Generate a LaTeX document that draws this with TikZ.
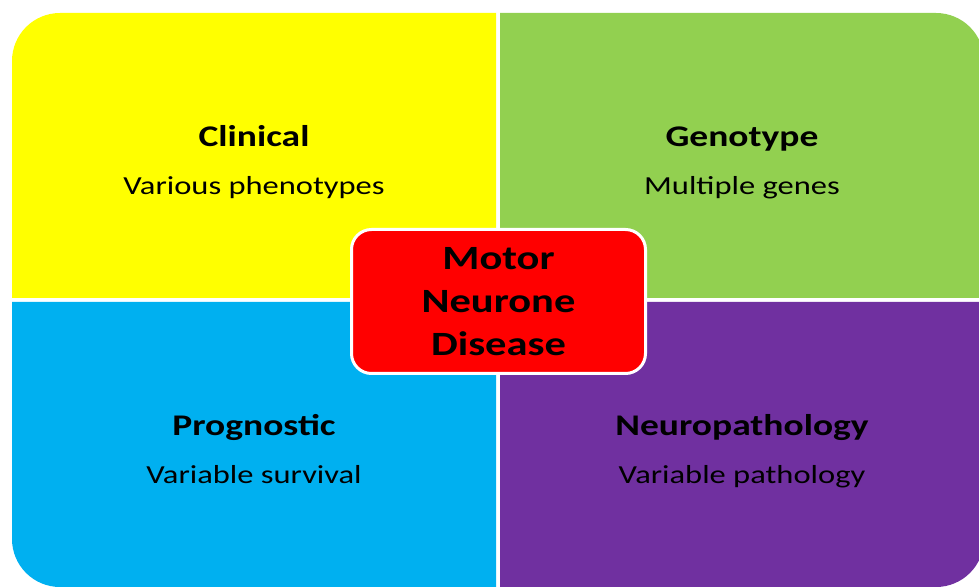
\documentclass[tikz,border=0pt]{standalone}
\usepackage{fontspec}
\setmainfont{Carlito}[FakeStretch=1.25]
\usepackage{xcolor}
\usetikzlibrary{positioning}

\definecolor{clinyellow}{HTML}{FFFF00}
\definecolor{genogreen}{HTML}{92D050}
\definecolor{progblue}{HTML}{00B0F0}
\definecolor{neuropurple}{HTML}{7030A0}
\definecolor{mndred}{HTML}{FF0000}

\begin{document}
\begin{tikzpicture}[
  x=0.75pt, y=0.75pt,
  node distance=3pt and 3pt,
  quad/.style={rectangle, inner sep=0pt, outer sep=0pt, minimum width=363pt, minimum height=213.75pt},
  head/.style={anchor=base, font=\bfseries\fontsize{22.5}{27}\selectfont},
  sub/.style={anchor=base, font=\fontsize{19.5}{23}\selectfont},
  core/.style={rectangle, draw=white, line width=2.25pt, fill=mndred, rounded corners=15pt,
    minimum width=220.5pt, minimum height=108pt, align=center,
    font=\bfseries\fontsize{25.5}{32}\selectfont}
]
\useasboundingbox (0,0) rectangle (979,586);
\clip (0,0) rectangle (979,586);

% quadrant frames
\node[quad] (clin) at (254,430.5) {};
\node[quad, right=of clin] (geno) {};
\node[quad, below=of clin] (prog) {};
\node[quad, right=of prog] (neuro) {};

% fills, outer corner rounded only
\def\qr{36pt}
\fill[clinyellow] (clin.south west) -- ([yshift=-\qr]clin.north west)
  arc[start angle=180, end angle=90, radius=\qr] -- (clin.north east) -- (clin.south east) -- cycle;
\fill[genogreen] (geno.south east) -- ([yshift=-\qr]geno.north east)
  arc[start angle=0, end angle=90, radius=\qr] -- (geno.north west) -- (geno.south west) -- cycle;
\fill[progblue] (prog.north west) -- ([yshift=\qr]prog.south west)
  arc[start angle=180, end angle=270, radius=\qr] -- (prog.south east) -- (prog.north east) -- cycle;
\fill[neuropurple] (neuro.north east) -- ([yshift=\qr]neuro.south east)
  arc[start angle=0, end angle=-90, radius=\qr] -- (neuro.south west) -- (neuro.north west) -- cycle;

% labels
\node[head] (clinhead) at ([yshift=6.75pt]clin.center) {Clinical};
\node[sub] (clinsub) at ([yshift=-29.25pt]clin.center) {Various phenotypes};
\node[head] (genohead) at ([yshift=6.75pt]geno.center) {Genotype};
\node[sub] (genosub) at ([yshift=-29.25pt]geno.center) {Multiple genes};
\node[head] (proghead) at ([yshift=6.75pt]prog.center) {Prognostic};
\node[sub] (progsub) at ([yshift=-29.25pt]prog.center) {Variable survival};
\node[head] (neurohead) at ([yshift=6.75pt]neuro.center) {Neuropathology};
\node[sub] (neurosub) at ([yshift=-29.25pt]neuro.center) {Variable pathology};

\node[core] (mnd) at (498.5,284.5) {Motor\\Neurone\\Disease};
\end{tikzpicture}
\end{document}
